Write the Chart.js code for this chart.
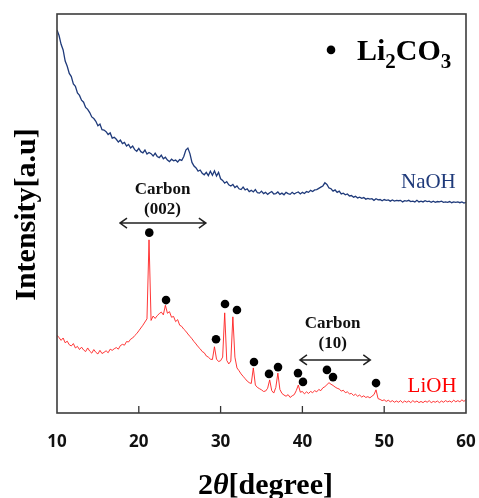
<!DOCTYPE html>
<html>
<head>
<meta charset="utf-8">
<script src="https://cdn.jsdelivr.net/npm/chart.js@4/dist/chart.umd.min.js"></script>
<style>
  html, body { margin: 0; padding: 0; background: #fff; }
</style>
</head>
<body>
<canvas id="xrd" width="479" height="498"></canvas>
<script>
// scan grid: 2theta from 10 to 60 deg, one reading every 0.25 deg
const scanStart = 10;
const scanStep = 0.25;

// NaOH pattern (arbitrary units 0-100)
const naohIntensity = [
  96.0, 94.6, 92.4, 91.0,
  88.2, 86.9, 85.1, 84.3,
  82.5, 81.9, 80.2, 79.6,
  78.4, 77.9, 76.6, 76.1,
  75.3, 74.2, 73.8, 73.1,
  72.0, 72.4, 71.0, 70.9,
  70.5, 69.8, 70.2, 68.9,
  69.1, 68.6, 67.9, 68.4,
  67.5, 67.8, 66.9, 67.3,
  66.4, 66.9, 66.0, 65.6,
  66.3, 65.5, 65.2, 65.9,
  64.9, 65.3, 65.0, 64.4,
  65.1, 64.3, 64.0, 64.6,
  63.7, 64.1, 63.4, 63.0,
  63.6, 63.2, 63.4, 62.9,
  63.5, 63.3, 64.3, 65.9,
  66.4, 65.0, 62.8, 61.9,
  61.4, 60.6, 60.9, 60.1,
  59.7, 60.3, 59.5, 60.6,
  59.6, 60.7, 59.4, 60.3,
  58.7, 58.3, 57.6, 58.0,
  57.2, 56.9, 57.3, 56.5,
  56.9, 56.2, 56.0, 56.6,
  55.9, 56.2, 55.5, 55.8,
  55.4, 56.0, 55.2, 55.1,
  55.6, 55.0, 55.3, 54.8,
  55.2, 55.5, 54.9, 55.0,
  55.4, 54.8, 55.1, 54.7,
  55.3, 55.0, 54.8, 55.3,
  54.9, 55.2, 55.4, 54.9,
  55.3, 55.0, 55.5, 55.3,
  55.8, 55.5, 55.9, 56.0,
  56.3, 56.6, 56.9, 57.7,
  57.3, 56.4, 56.2, 55.6,
  55.9, 55.3, 55.6, 54.9,
  55.1, 54.7, 54.9, 54.4,
  54.5, 54.1, 54.3, 53.9,
  54.1, 53.8, 54.0, 53.6,
  53.8, 53.6, 53.7, 53.3,
  53.7, 53.4, 53.5, 53.2,
  53.5, 53.3, 53.4, 53.1,
  53.4, 53.1, 53.3, 53.2,
  53.3, 52.9, 53.2, 53.1,
  53.3, 53.0, 53.1, 52.9,
  53.3, 52.9, 53.1, 52.9,
  53.2, 53.0, 53.1, 52.8,
  53.1, 52.8, 53.0, 52.9,
  53.1, 52.8, 52.9, 52.8,
  53.0, 52.7, 52.9, 52.8,
  52.9, 52.7, 52.9, 52.6,
  52.8
];

// LiOH pattern
const liohIntensity = [
  19.5, 18.9, 18.2, 18.8,
  17.6, 18.0, 17.1, 16.8,
  17.4, 16.3, 16.7, 15.9,
  16.5, 15.8, 15.4, 16.3,
  15.5, 15.0, 15.9, 15.2,
  14.8, 15.7, 14.9, 15.2,
  15.6, 15.1, 16.0, 15.7,
  16.1, 16.4, 16.0, 16.9,
  17.2, 17.0, 17.9, 17.8,
  18.5, 18.8, 19.4, 19.9,
  20.6, 21.3, 22.0, 22.8,
  23.6, 43.4, 23.2, 24.3,
  23.7, 24.4, 24.9, 25.3,
  24.6, 27.0, 25.0, 25.4,
  24.0, 24.2, 22.9, 23.4,
  22.0, 21.7, 21.0, 20.5,
  19.8, 19.2, 18.6, 17.9,
  17.3, 16.6, 16.1, 15.4,
  15.1, 14.3, 14.0, 13.5,
  13.4, 16.6, 13.5, 12.9,
  13.1, 14.0, 25.1, 13.2,
  12.3, 13.0, 24.1, 14.0,
  11.3, 10.6, 9.8, 9.2,
  8.6, 8.0, 7.6, 7.4,
  11.3, 7.0, 6.4, 6.1,
  5.8, 5.4, 5.5, 6.2,
  8.3, 5.6, 5.0, 6.4,
  10.0, 5.9, 4.9, 4.5,
  4.2, 4.6, 3.9, 4.3,
  4.6, 5.6, 7.0, 5.2,
  5.4, 4.8, 5.3, 4.9,
  5.4, 5.1, 5.6, 5.3,
  5.9, 5.6, 6.3, 6.6,
  7.1, 7.6, 7.2, 6.9,
  6.5, 6.2, 6.0, 5.5,
  5.7, 5.1, 5.3, 4.8,
  4.9, 4.4, 4.7, 4.2,
  4.5, 4.0, 4.3, 3.9,
  4.1, 3.8, 4.2, 4.6,
  5.8, 3.6, 3.4, 3.1,
  3.3, 2.9, 3.2, 2.8,
  3.1, 2.7, 3.0, 2.7,
  3.1, 2.6, 3.0, 2.7,
  3.0, 2.6, 3.1, 2.7,
  3.0, 2.6, 2.9, 2.6,
  3.0, 2.7, 3.1, 2.6,
  2.9, 2.7, 3.0, 2.6,
  3.0, 2.7, 3.1, 2.8,
  3.0, 2.7, 3.2, 2.8,
  3.1, 2.8, 3.3, 2.9,
  3.4
];

// Li2CO3 peak markers
const li2co3TwoTheta = [21.28, 23.33, 29.44, 30.54, 32.0, 34.08, 35.92, 37.02, 39.46, 40.07, 43.0, 43.74, 49.0];
const li2co3Level    = [45.2, 28.3, 18.5, 27.3, 25.8, 12.8, 9.8, 11.5, 10.0, 7.8, 10.8, 9.0, 7.5];

const xTicks = [10, 20, 30, 40, 50, 60];

const naohColor = "#1f3a7a";
const liohColor = "#ff2020";
const serif = '"Liberation Serif", "Times New Roman", serif';

function toPoints(values) {
  return values.map((v, i) => ({ x: scanStart + i * scanStep, y: v }));
}

// frame, inner ticks, arrows, labels, legend, axis titles
const xrdDecor = {
  id: "xrdDecor",
  afterDraw(chart) {
    const ctx = chart.ctx;
    const area = chart.chartArea;
    const x = chart.scales.x;
    const y = chart.scales.y;
    const px = v => x.getPixelForValue(v);
    const py = v => y.getPixelForValue(v);

    ctx.save();

    // ticks pointing inward
    ctx.strokeStyle = "#333";
    ctx.lineWidth = 1.3;
    xTicks.forEach(t => {
      if (t <= x.min || t >= x.max) return;
      ctx.beginPath();
      ctx.moveTo(px(t), area.bottom);
      ctx.lineTo(px(t), area.bottom - 7);
      ctx.stroke();
    });

    // frame
    ctx.strokeStyle = "#3c3c3c";
    ctx.lineWidth = 1.6;
    ctx.strokeRect(area.left, area.top, area.right - area.left, area.bottom - area.top);

    // double arrows
    function arrow(x1, x2, yv) {
      const a = px(x1), b = px(x2), yy = py(yv);
      ctx.strokeStyle = "#222";
      ctx.lineWidth = 1.5;
      ctx.beginPath();
      ctx.moveTo(a, yy); ctx.lineTo(b, yy);
      ctx.moveTo(a + 7, yy - 5); ctx.lineTo(a, yy); ctx.lineTo(a + 7, yy + 5);
      ctx.moveTo(b - 7, yy - 5); ctx.lineTo(b, yy); ctx.lineTo(b - 7, yy + 5);
      ctx.stroke();
    }
    arrow(17.7, 28.2, 47.6);
    arrow(39.7, 48.3, 13.3);

    ctx.fillStyle = "#111";
    ctx.textAlign = "center";
    ctx.textBaseline = "alphabetic";
    ctx.font = "bold 17px " + serif;
    ctx.fillText("Carbon", px(22.9), py(54.9));
    ctx.fillText("(002)", px(22.9), py(49.9));
    ctx.fillText("Carbon", px(43.7), py(21.3));
    ctx.fillText("(10)", px(43.7), py(16.3));

    // series labels
    ctx.font = "21px " + serif;
    ctx.fillStyle = naohColor;
    ctx.fillText("NaOH", px(55.4), py(56.4));
    ctx.fillStyle = "#ff0000";
    ctx.fillText("LiOH", px(55.85), py(5.3));

    // legend
    ctx.fillStyle = "#000";
    ctx.beginPath();
    ctx.arc(px(43.5), py(91.0), 4.3, 0, Math.PI * 2);
    ctx.fill();
    ctx.textAlign = "left";
    let cx = px(46.67);
    const base = py(88.47);
    [["Li", 30, 0], ["2", 21, 8], ["CO", 30, 0], ["3", 21, 8]].forEach(([s, size, dy]) => {
      ctx.font = "bold " + size + "px " + serif;
      ctx.fillText(s, cx, base + dy);
      cx += ctx.measureText(s).width;
    });

    // x title: 2θ[degree]
    const parts = [["2", "bold"], ["\u03b8", "italic bold"], ["[degree]", "bold"]];
    let total = 0;
    parts.forEach(([s, st]) => { ctx.font = st + " 30px " + serif; total += ctx.measureText(s).width; });
    let tx = (area.left + area.right) / 2 + 4 - total / 2;
    parts.forEach(([s, st]) => {
      ctx.font = st + " 30px " + serif;
      ctx.fillText(s, tx, 494);
      tx += ctx.measureText(s).width;
    });

    // y title
    ctx.translate(35, (area.top + area.bottom) / 2 + 1);
    ctx.rotate(-Math.PI / 2);
    ctx.textAlign = "center";
    ctx.font = "bold 30px " + serif;
    ctx.fillText("Intensity[a.u]", 0, 0);

    ctx.restore();
  }
};

new Chart(document.getElementById("xrd"), {
  type: "line",
  data: {
    datasets: [
      {
        label: "NaOH",
        data: toPoints(naohIntensity),
        borderColor: naohColor,
        borderWidth: 1.3,
        pointRadius: 0,
        tension: 0
      },
      {
        label: "LiOH",
        data: toPoints(liohIntensity),
        borderColor: liohColor,
        borderWidth: 0.9,
        pointRadius: 0,
        tension: 0
      },
      {
        label: "Li2CO3",
        data: li2co3TwoTheta.map((t, i) => ({ x: t, y: li2co3Level[i] })),
        showLine: false,
        pointRadius: 4.3,
        pointBackgroundColor: "#000",
        pointBorderWidth: 0
      }
    ]
  },
  options: {
    responsive: false,
    animation: false,
    layout: { padding: { left: 57, right: 13, top: 14, bottom: 0 } },
    plugins: { legend: { display: false }, tooltip: { enabled: false } },
    scales: {
      x: {
        type: "linear",
        min: 10,
        max: 60,
        afterBuildTicks: s => { s.ticks = xTicks.map(v => ({ value: v })); },
        afterFit: s => {
          s.height = 85;
          s.paddingLeft = 0;
          s.paddingRight = 0;
        },
        grid: { display: false, drawTicks: false },
        border: { display: false },
        ticks: {
          padding: 19,
          color: "#111",
          font: { family: '"Open Sans", sans-serif', size: 17, weight: "bold" }
        }
      },
      y: {
        display: false,
        min: 0,
        max: 100
      }
    }
  },
  plugins: [xrdDecor]
});
</script>
</body>
</html>
